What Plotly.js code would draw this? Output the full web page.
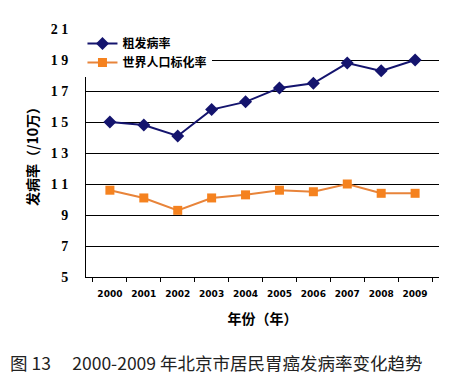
<!DOCTYPE html>
<html><head><meta charset="utf-8">
<script src="https://cdn.plot.ly/plotly-3.0.1.min.js"></script>
<style>body{margin:0;background:#fff}#c{width:462px;height:384px}</style>
</head><body><div id="c"></div>
<script>
const years = ['2000','2001','2002','2003','2004','2005','2006','2007','2008','2009'];
const crudeRate = [15.0, 14.8, 14.1, 15.8, 16.3, 17.2, 17.5, 18.8, 18.3, 19.0];
const asrWorld = [10.6, 10.1, 9.3, 10.1, 10.3, 10.6, 10.5, 11.0, 10.4, 10.4];
const seriesNames = ['粗发病率', '世界人口标化率'];
const yTicks = [5, 7, 9, 11, 13, 15, 17, 19, 21];
const yTickText = ['5', '7', '9', '1 1', '1 3', '1 5', '1 7', '1 9', '2 1'];
const xTitle = '年份（年）';
const yTitle = '发病率（/10万）';
const caption = '图 13　 2000-2009 年北京市居民胃癌发病率变化趋势';

const data = [
  {x: years, y: crudeRate, name: seriesNames[0], type: 'scatter', mode: 'lines+markers',
   line: {color: '#14146e', width: 2}, marker: {symbol: 'diamond', size: 10, color: '#14146e'}},
  {x: years, y: asrWorld, name: seriesNames[1], type: 'scatter', mode: 'lines+markers',
   line: {color: '#e8843a', width: 2}, marker: {symbol: 'square', size: 9, color: '#f5821f'}}
];
const layout = {
  width: 462, height: 384,
  margin: {l: 86, r: 23, t: 29, b: 107},
  paper_bgcolor: '#fff', plot_bgcolor: '#fff',
  showlegend: true,
  legend: {x: -0.01, y: 1.0, xanchor: 'left', yanchor: 'top', bgcolor: 'rgba(255,255,255,1)',
    font: {family: 'Noto Sans CJK SC', size: 12, color: '#000', weight: 'bold'},
    itemwidth: 30, tracegroupgap: 0},
  xaxis: {type: 'category', tickson: 'boundaries', ticks: 'outside', ticklen: 4, tickcolor: '#000',
    tickangle: 0, ticklabelstandoff: 8,
    showline: true, linecolor: '#000', linewidth: 1, showgrid: false, zeroline: false,
    tickfont: {family: 'DejaVu Sans', size: 9, color: '#000', weight: 'bold'},
    title: {text: xTitle, font: {family: 'Noto Sans CJK SC', size: 14, color: '#000', weight: 'bold'}, standoff: 16}},
  yaxis: {range: [5, 21], tickvals: yTicks, ticktext: yTickText, ticks: '', ticklabelstandoff: 14,
    showline: true, linecolor: '#000', linewidth: 1, showgrid: true, gridcolor: '#000', gridwidth: 1,
    zeroline: false,
    tickfont: {family: 'Liberation Serif', size: 14, color: '#000', weight: 'bold'},
    title: {text: yTitle, font: {family: 'Noto Sans CJK SC', size: 14, color: '#000', weight: 'bold'}, standoff: 8}},
  annotations: [{text: caption, xref: 'paper', yref: 'paper', x: -0.222, y: -0.345, xanchor: 'left', yanchor: 'middle',
    showarrow: false, font: {family: 'Noto Sans CJK SC', size: 17.5, color: '#222'}}]
};
Plotly.newPlot('c', data, layout, {displayModeBar: false});
</script></body></html>
